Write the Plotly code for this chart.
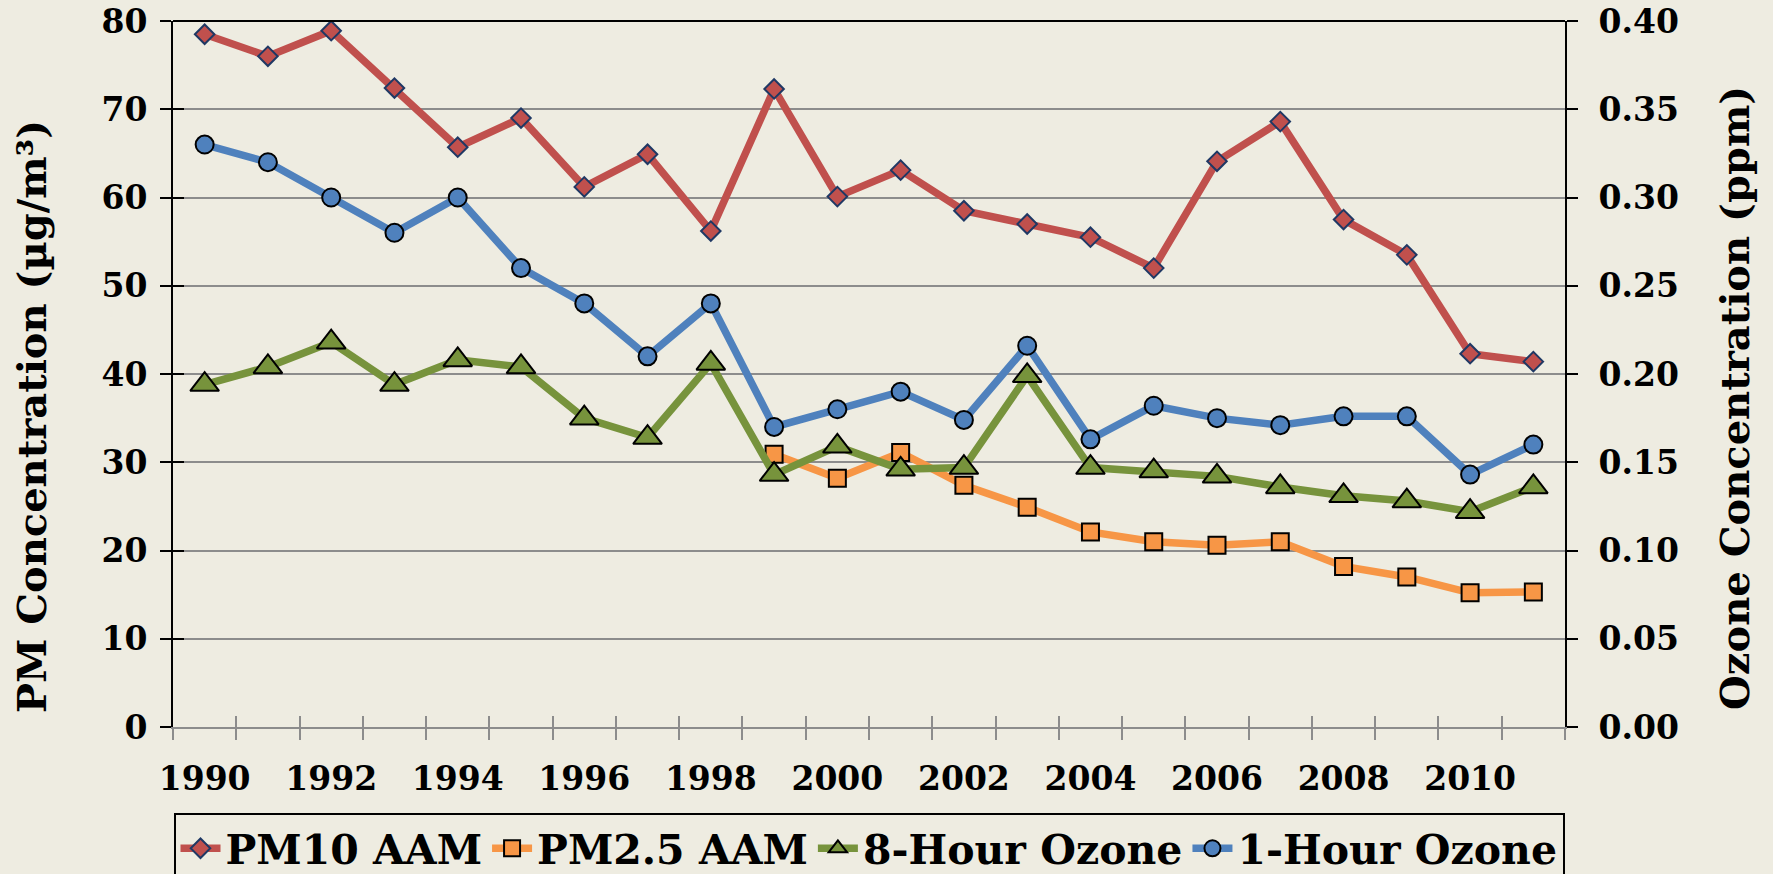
import plotly.graph_objects as go

# Data
years = list(range(1990, 2012))
label_years = [1990, 1992, 1994, 1996, 1998, 2000, 2002, 2004, 2006, 2008, 2010]
label_text = [str(y) for y in label_years]

pm10_aam = [78.5, 76.0, 78.9, 72.4, 65.7, 69.0, 61.2, 64.9, 56.2, 72.3, 60.1,
            63.1, 58.5, 57.0, 55.5, 52.0, 64.1, 68.6, 57.5, 53.5, 42.3, 41.4]
pm25_aam = [None] * 9 + [30.9, 28.2, 31.1, 27.4, 24.9, 22.1, 21.0,
                         20.6, 21.0, 18.2, 17.0, 15.2, 15.3]
ozone_8hr = [0.194, 0.204, 0.218, 0.194, 0.208, 0.204, 0.175, 0.164, 0.206, 0.143, 0.159,
             0.146, 0.147, 0.199, 0.147, 0.145, 0.142, 0.136, 0.131, 0.128, 0.122, 0.136]
ozone_1hr = [0.330, 0.320, 0.300, 0.280, 0.300, 0.260, 0.240, 0.210, 0.240, 0.170, 0.180,
             0.190, 0.174, 0.216, 0.163, 0.182, 0.175, 0.171, 0.176, 0.176, 0.143, 0.160]

FONT = "DejaVu Serif"
BG = "#EEECE1"
GRID = "#8C8C8C"
LW = 7.5

# category boundaries for the tick marks
bounds = [y - 0.5 for y in years] + [years[-1] + 0.5]

fig = go.Figure()

fig.add_trace(go.Scatter(
    x=years, y=pm10_aam, name="PM10 AAM", mode="lines+markers",
    line=dict(color="#C0504D", width=LW),
    marker=dict(symbol="diamond", size=15, color="#C0504D",
                line=dict(color="#1F3864", width=2)),
))
fig.add_trace(go.Scatter(
    x=years, y=pm25_aam, name="PM2.5 AAM", mode="lines+markers",
    line=dict(color="#F79646", width=LW),
    marker=dict(symbol="square", size=17, color="#F79646",
                line=dict(color="black", width=2)),
))
fig.add_trace(go.Scatter(
    x=years, y=ozone_8hr, name="8-Hour Ozone", mode="lines+markers", yaxis="y2",
    line=dict(color="#77933C", width=LW),
    marker=dict(symbol="triangle-up", size=25, color="#77933C",
                line=dict(color="black", width=2)),
))
fig.add_trace(go.Scatter(
    x=years, y=ozone_1hr, name="1-Hour Ozone", mode="lines+markers", yaxis="y2",
    line=dict(color="#4F81BD", width=LW),
    marker=dict(symbol="circle", size=18, color="#4F81BD",
                line=dict(color="black", width=2)),
))
# empty trace to hold the overlay axes (inner half of the crossing ticks)
fig.add_trace(go.Scatter(x=[], y=[], xaxis="x2", yaxis="y3",
                         showlegend=False, hoverinfo="skip"))

fig.update_layout(
    width=1773,
    height=874,
    margin=dict(l=173, r=208, t=21, b=147, autoexpand=False),
    paper_bgcolor=BG,
    plot_bgcolor=BG,
    font=dict(family=FONT, size=33, color="black", weight="bold"),
    showlegend=True,
    xaxis=dict(
        range=[1989.5, 2011.5],
        tickmode="array",
        tickvals=label_years,
        ticktext=label_text,
        ticks="",
        ticklabelstandoff=21,
        showgrid=False,
        zeroline=False,
        showline=True,
        linecolor=GRID,
        linewidth=2,
        automargin=False,
        minor=dict(tickmode="array", tickvals=bounds, ticks="outside",
                   ticklen=11, tickwidth=2, tickcolor=GRID, showgrid=False),
    ),
    xaxis2=dict(
        overlaying="x",
        matches="x",
        anchor="y",
        side="bottom",
        tickmode="array",
        tickvals=bounds,
        ticks="inside",
        ticklen=11,
        tickwidth=2,
        tickcolor=GRID,
        showticklabels=False,
        showgrid=False,
        zeroline=False,
        showline=False,
        automargin=False,
    ),
    yaxis=dict(
        range=[0, 80],
        dtick=10,
        ticks="outside",
        ticklen=11,
        tickwidth=2,
        tickcolor="black",
        ticklabelstandoff=6,
        showgrid=True,
        gridcolor=GRID,
        gridwidth=2,
        zeroline=False,
        showline=True,
        linecolor="black",
        linewidth=2,
        automargin=False,
    ),
    yaxis3=dict(
        overlaying="y",
        matches="y",
        anchor="x",
        side="left",
        dtick=10,
        ticks="inside",
        ticklen=11,
        tickwidth=2,
        tickcolor="black",
        showticklabels=False,
        showgrid=False,
        zeroline=False,
        showline=False,
        automargin=False,
    ),
    yaxis2=dict(
        range=[0, 0.4],
        dtick=0.05,
        tickformat=".2f",
        overlaying="y",
        side="right",
        ticks="outside",
        ticklen=11,
        tickwidth=2,
        tickcolor="black",
        ticklabelstandoff=14,
        showgrid=False,
        zeroline=False,
        showline=True,
        linecolor="black",
        linewidth=2,
        automargin=False,
    ),
    legend=dict(
        orientation="h",
        x=0.5,
        xanchor="center",
        y=-0.122,
        yanchor="top",
        font=dict(size=41),
        itemwidth=40,
        bgcolor=BG,
        bordercolor="black",
        borderwidth=2,
    ),
    annotations=[
        dict(text="PM Concentration (µg/m³)", textangle=-90, xref="paper", yref="paper",
             x=-0.102, y=0.439, xanchor="center", yanchor="middle", showarrow=False,
             font=dict(size=40)),
        dict(text="Ozone Concentration (ppm)", textangle=-90, xref="paper", yref="paper",
             x=1.1214, y=0.466, xanchor="center", yanchor="middle", showarrow=False,
             font=dict(size=40)),
    ],
    shapes=[dict(type="line", xref="paper", yref="paper", x0=0, x1=1, y0=1, y1=1,
                 line=dict(color="black", width=2))],
)

fig.write_html("out.html", config={"displayModeBar": False},
               post_script="document.body.style.margin = '0';")
